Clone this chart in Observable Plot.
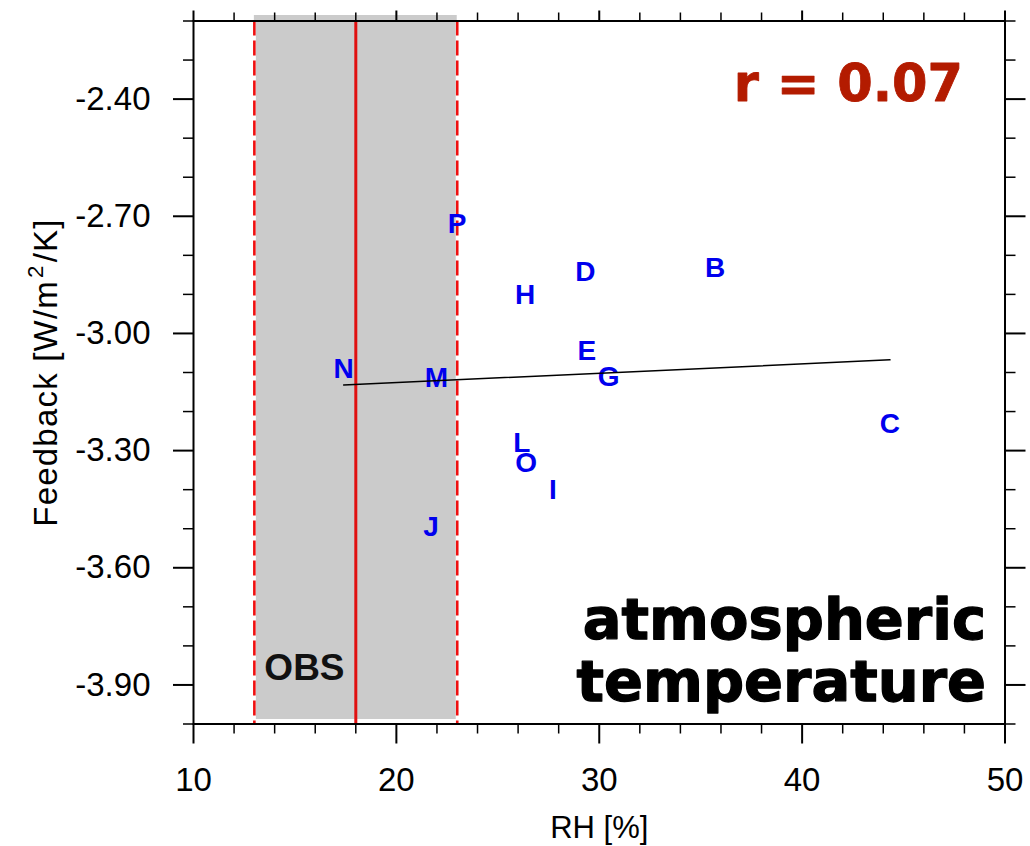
<!DOCTYPE html>
<html>
<head>
<meta charset="utf-8">
<script src="https://cdn.jsdelivr.net/npm/d3@7"></script>
<script src="https://cdn.jsdelivr.net/npm/@observablehq/plot@0.6"></script>
<style>
  html, body { margin: 0; padding: 0; background: #fff; overflow: hidden; }
  svg { display: block; }
</style>
</head>
<body>
<div id="chart"></div>
<script>
// ---- data ----
const models   = ["P", "D", "B", "H", "E", "G", "N", "M", "C", "L", "O", "I", "J"];
const rh       = [22.99, 29.31, 35.71, 26.35, 29.39, 30.46, 17.40, 21.97, 44.33, 26.18, 26.40, 27.72, 21.71];
const feedback = [-2.720, -2.842, -2.832, -2.901, -3.044, -3.112, -3.092, -3.115, -3.231, -3.280, -3.331, -3.400, -3.496];

const obsLow = 13, obsMean = 18, obsHigh = 23;

const xMajor = [10, 20, 30, 40, 50];
const xMinor = [12, 14, 16, 18, 22, 24, 26, 28, 32, 34, 36, 38, 42, 44, 46, 48];
const yMajor = [-2.4, -2.7, -3.0, -3.3, -3.6, -3.9];
const yMinor = [-2.2, -2.3, -2.5, -2.6, -2.8, -2.9, -3.1, -3.2, -3.4, -3.5, -3.7, -3.8, -4.0];

const xTitle = "RH [%]";
const yTitleParts = ["Feedback [W/m", "2", "/K]"];
const yTitle = yTitleParts.join("");
const rLabel = "r = 0.07";
const panelTitle = "atmospheric\ntemperature";
const obsLabel = "OBS";

// ---- build ----
const data = models.map((m, i) => ({model: m, rh: rh[i], fb: feedback[i]}));
const sans = "'Liberation Sans', Arial, Helvetica, sans-serif";
const heavy = "'DejaVu Sans', Verdana, sans-serif";
const blank = () => "";

const axes = [
  Plot.axisX(xMinor, {anchor: "bottom", tickSize: 10, tickFormat: blank, label: null, strokeWidth: 1.5}),
  Plot.axisX(xMajor, {anchor: "bottom", tickSize: 20, tickPadding: 24, tickFormat: d => String(d), fontSize: 33, fontFamily: sans, label: null, strokeWidth: 2}),
  Plot.axisX(xMinor, {anchor: "top", tickSize: 9, tickFormat: blank, label: null, strokeWidth: 1.5}),
  Plot.axisX(xMajor, {anchor: "top", tickSize: 11, tickFormat: blank, label: null, strokeWidth: 2}),
  Plot.axisY(yMinor, {anchor: "left", tickSize: 10, tickFormat: blank, label: null, strokeWidth: 1.5}),
  Plot.axisY(yMajor, {anchor: "left", tickSize: 20, tickPadding: 23, tickFormat: d => d.toFixed(2), fontSize: 33, fontFamily: sans, label: null, strokeWidth: 2}),
  Plot.axisY(yMinor, {anchor: "right", tickSize: 10, tickFormat: blank, label: null, strokeWidth: 1.5}),
  Plot.axisY(yMajor, {anchor: "right", tickSize: 20, tickFormat: blank, label: null, strokeWidth: 2})
];

const chart = Plot.plot({
  width: 1030,
  height: 846,
  marginLeft: 193,
  marginRight: 25.5,
  marginTop: 20.5,
  marginBottom: 122.5,
  x: {domain: [10, 50]},
  y: {domain: [-4.0, -2.2]},
  style: {background: "white", color: "black", fontFamily: sans},
  marks: [
    Plot.rect([{lo: obsLow, hi: obsHigh}], {x1: "lo", x2: "hi", fill: "#cbcbcb", insetTop: -5.5, insetBottom: 4.5}),
    Plot.ruleX([obsLow, obsHigh], {stroke: "white", strokeWidth: 3}),
    Plot.ruleX([obsLow, obsHigh], {stroke: "#ee1010", strokeWidth: 2.6, strokeDasharray: "15,5"}),
    Plot.ruleX([obsMean], {stroke: "#e01010", strokeWidth: 3}),
    Plot.text([obsLabel], {x: () => obsLow, frameAnchor: "bottom", textAnchor: "start", lineAnchor: "top", dx: 10, dy: -70.5, fontSize: 37, fontWeight: "bold", fill: "#111", fontFamily: sans}),
    Plot.text(data, {x: "rh", y: "fb", text: "model", fill: "#0000ee", fontSize: 28, fontWeight: "bold", fontFamily: sans}),
    Plot.linearRegressionY(data, {x: "rh", y: "fb", stroke: "black", strokeWidth: 1.5, ci: 0}),
    Plot.text([rLabel], {frameAnchor: "top-right", textAnchor: "end", lineAnchor: "top", dx: -42, dy: 44, fontSize: 51, fontWeight: "bold", fill: "#b31b00", stroke: "#b31b00", strokeWidth: 0.8, fontFamily: heavy}),
    Plot.text([panelTitle], {frameAnchor: "top-right", textAnchor: "end", lineAnchor: "top", dx: -19, dy: 573, fontSize: 57.5, lineHeight: 1.09, fontWeight: "bold", fill: "black", stroke: "black", strokeWidth: 1.3, fontFamily: heavy}),
    Plot.text([xTitle], {frameAnchor: "bottom", lineAnchor: "top", dy: 91.5, fontSize: 31, fill: "black", fontFamily: sans}),
    Plot.text([yTitle], {frameAnchor: "left", rotate: -90, textAnchor: "middle", lineAnchor: "middle", dx: -147, fontSize: 33, fill: "black", fontFamily: sans}),
    Plot.frame({stroke: "black", strokeWidth: 2}),
    ...axes
  ]
});

// superscript for the y-axis title
d3.select(chart).selectAll("text").filter(function() { return this.textContent === yTitle; })
  .each(function() {
    const t = d3.select(this);
    t.text(null).attr("letter-spacing", "1.2px");
    t.append("tspan").text(yTitleParts[0]);
    t.append("tspan").text(yTitleParts[1]).attr("font-size", "0.68em").attr("dy", "-0.62em").attr("dx", "2");
    t.append("tspan").text(yTitleParts[2]).attr("dy", "0.42em").attr("dx", "2");
  });

document.getElementById("chart").appendChild(chart);
</script>
</body>
</html>
